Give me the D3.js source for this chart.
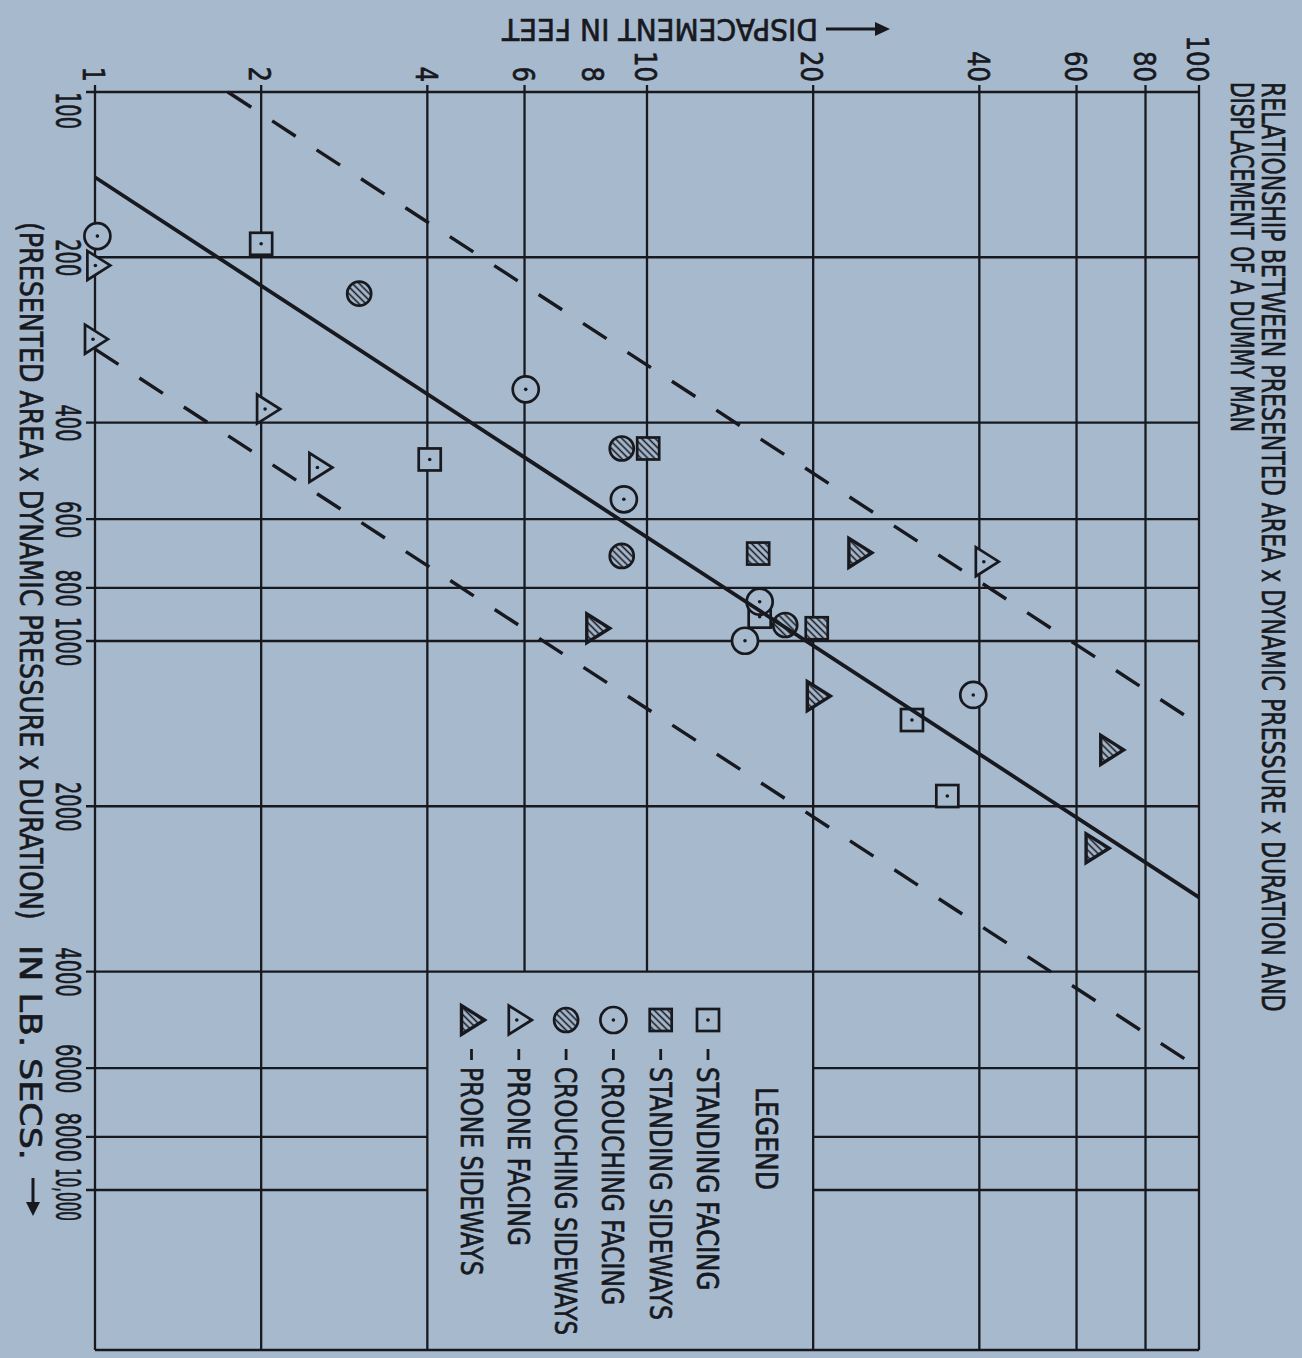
<!DOCTYPE html>
<html>
<head>
<meta charset="utf-8">
<script src="https://cdn.jsdelivr.net/npm/d3@7"></script>
<style>
  body { margin: 0; background: #a7b9cd; }
  svg { display: block; }
  text { font-family: "DejaVu Sans", sans-serif; fill: #17191f; stroke: #17191f; stroke-width: 0.7px; }
</style>
</head>
<body>
<svg id="chart" width="1302" height="1358"></svg>
<script>
// The chart is drawn upright in its own frame and then turned a quarter clockwise,
// like the scanned page. area x pressure x duration runs along the frame's x axis.

const areaTicks = [100, 200, 400, 600, 800, 1000, 2000, 4000, 6000, 8000, 10000];
const areaLabels = ["100", "200", "400", "600", "800", "1000", "2000", "4000", "6000", "8000", "10,000"];
const dispTicks = [1, 2, 4, 6, 8, 10, 20, 40, 60, 80, 100];
const dispGrid = [1, 2, 4, 6, 10, 20, 40, 60, 80, 100];

// [area x pressure x duration (lb.secs), displacement (ft)]
const standingFacing = [[189, 2.0], [467, 4.04], [903, 16.0], [1393, 30.2], [1916, 35.0]];
const standingSideways = [[446, 10.05], [693, 15.9], [948, 20.3]];
const crouchingFacing = [[183, 1.01], [348, 6.03], [552, 9.08], [848, 16.0], [999, 15.05], [1254, 39.0]];
const crouchingSideways = [[233, 3.01], [446, 9.0], [700, 9.0], [935, 17.8]];
const proneFacing = [[207, 1.01], [282, 1.0], [378, 2.05], [483, 2.55], [717, 41.1]];
const proneSideways = [[948, 8.11], [691, 24.2], [1260, 20.35], [1579, 69.2], [2385, 65.1]];

const seriesNames = ["STANDING FACING", "STANDING SIDEWAYS", "CROUCHING FACING",
                     "CROUCHING SIDEWAYS", "PRONE FACING", "PRONE SIDEWAYS"];
const seriesData = [standingFacing, standingSideways, crouchingFacing,
                    crouchingSideways, proneFacing, proneSideways];
const markerTypes = ["squareDot", "squareHatch", "circleDot", "circleHatch", "triangleDot", "triangleHatch"];

// fitted line and the two dashed bounds, [area, displacement] end points
const meanLine = [[143, 1], [2930, 100]];
const upperBound = [[100, 1.74], [1420, 100]];
const lowerBound = [[294, 1], [6000, 100]];

const W = 1302, H = 1358;
const ink = "#17191f";
const paper = "#a7b9cd";
const plotEnd = 1350;

const svg = d3.select("#chart");
svg.append("rect").attr("width", W).attr("height", H).attr("fill", paper);

const hatch = svg.append("defs").append("pattern")
    .attr("id", "hatch")
    .attr("patternUnits", "userSpaceOnUse")
    .attr("width", 4.8).attr("height", 4.8)
    .attr("patternTransform", "rotate(-45)");
hatch.append("rect").attr("width", 4.8).attr("height", 4.8).attr("fill", paper);
hatch.append("line").attr("x1", 0).attr("x2", 4.8).attr("y1", 2.4).attr("y2", 2.4)
    .attr("stroke", ink).attr("stroke-width", 1.6);

const g = svg.append("g").attr("transform", `translate(${W},0) rotate(90)`);

const x = d3.scaleLog().domain([100, 10000]).range([92, 1190]);
const y = d3.scaleLog().domain([1, 100]).range([1207, 103]);
const legendTop = x(4000);

// squeeze a text to the condensed lettering of the original
function fit(sel, len, base) {
    sel.each(function (d, i) {
        const target = typeof len === "function" ? len(d, i) : len;
        const pre = typeof base === "function" ? base(d, i) : (base || "");
        const natural = this.getComputedTextLength();
        this.setAttribute("transform", `${pre} scale(${(target / natural).toFixed(4)},1)`);
    });
}

// grid
const grid = g.append("g").attr("stroke", ink).attr("stroke-width", 2.3);
const areaSegs = areaTicks.flatMap(d => d > 4000
    ? [[d, y(100), y(20)], [d, y(4), y(1) + 9]]
    : [[d, y(100), y(1) + 9]]);
grid.selectAll(".ga").data(areaSegs).join("line")
    .attr("class", "ga")
    .attr("x1", s => x(s[0])).attr("x2", s => x(s[0]))
    .attr("y1", s => s[1]).attr("y2", s => s[2]);
grid.selectAll(".gd").data(dispGrid).join("line")
    .attr("class", "gd")
    .attr("x1", 85)
    .attr("x2", d => (d > 4 && d < 20) ? legendTop : plotEnd)
    .attr("y1", d => y(d)).attr("y2", d => y(d));
grid.append("line")
    .attr("x1", plotEnd).attr("x2", plotEnd)
    .attr("y1", y(100)).attr("y2", y(1));

// axes
const xAxis = d3.axisBottom(x).tickValues(areaTicks)
    .tickFormat((d, i) => areaLabels[i]).tickSize(0).tickPadding(0);
const ax = g.append("g").attr("transform", "translate(0,1246)").call(xAxis);
ax.select(".domain").remove();
ax.selectAll("text")
    .attr("y", 0).attr("dy", null).attr("x", 0)
    .attr("font-size", 33)
    .call(fit,
        (d, i) => areaLabels[i].includes(",") ? 53 : areaLabels[i].length * 12.4,
        d => `translate(${d === 100 ? 18 : d === 10000 ? 4 : 0},0)`);

const yAxis = d3.axisLeft(y).tickValues(dispTicks)
    .tickFormat(d3.format("d")).tickSize(0).tickPadding(0);
const ay = g.append("g").attr("transform", "translate(82,0)").call(yAxis);
ay.select(".domain").remove();
ay.selectAll("text")
    .attr("x", 0).attr("dy", "0.36em")
    .attr("font-size", 31)
    .call(fit, d => String(d).length * 15.5);

// titles
function label(txt, ux, vy, size, len) {
    return g.append("text").attr("font-size", size).text(txt)
        .call(fit, len, `translate(${ux},${vy})`);
}
label("RELATIONSHIP BETWEEN PRESENTED AREA x DYNAMIC PRESSURE x DURATION AND", 82, 40, 32, 930);
label("DISPLACEMENT OF A DUMMY MAN", 82, 71, 32, 350);
label("(PRESENTED AREA x DYNAMIC PRESSURE x DURATION)", 222, 1282, 32, 698);
label("IN LB. SECS.", 945, 1282, 31, 215);

g.append("text")
    .attr("dominant-baseline", "central")
    .attr("font-size", 31)
    .text("DISPACEMENT IN FEET")
    .call(fit, 316, "translate(29,484) rotate(90)");

// arrows
const arrows = g.append("g").attr("stroke", ink).attr("fill", ink);
arrows.append("line").attr("x1", 29).attr("x2", 29).attr("y1", 476).attr("y2", 424).attr("stroke-width", 3);
arrows.append("polygon").attr("points", "29,412 22,427 36,427").attr("stroke", "none");
arrows.append("line").attr("x1", 1178).attr("x2", 1204).attr("y1", 1269).attr("y2", 1269).attr("stroke-width", 3);
arrows.append("polygon").attr("points", "1216,1269 1202,1262 1202,1276").attr("stroke", "none");

// markers
function drawMarker(sel, type) {
    const hatched = type.endsWith("Hatch");
    const fill = hatched ? "url(#hatch)" : paper;
    const sw = type === "triangleHatch" ? 3.4 : 2.7;
    let shape;
    if (type.startsWith("square")) {
        shape = sel.append("rect").attr("x", -11).attr("y", -11).attr("width", 22).attr("height", 22);
    } else if (type.startsWith("circle")) {
        shape = sel.append("circle").attr("r", hatched ? 12 : 13);
    } else {
        shape = sel.append("polygon").attr("points", "0,-13 14.5,10 -14.5,10");
    }
    shape.attr("fill", fill).attr("stroke", ink).attr("stroke-width", sw);
    if (!hatched) {
        sel.append("circle").attr("r", 1.8).attr("fill", ink)
            .attr("cy", type === "triangleDot" ? 2 : 0);
    }
}

seriesData.forEach((pts, k) => {
    g.append("g").selectAll("g").data(pts).join("g")
        .attr("transform", p => `translate(${x(p[0])},${y(p[1])})`)
        .each(function () { drawMarker(d3.select(this), markerTypes[k]); });
});

// fitted lines
const line = d3.line().x(p => x(p[0])).y(p => y(p[1]));
g.append("path").datum(meanLine).attr("d", line)
    .attr("fill", "none").attr("stroke", ink).attr("stroke-width", 3.8);
[upperBound, lowerBound].forEach(b => {
    g.append("path").datum(b).attr("d", line)
        .attr("fill", "none").attr("stroke", ink).attr("stroke-width", 3.4)
        .attr("stroke-dasharray", "28,25");
});

// legend
label("LEGEND", 1087, 546, 31, 103);
const legend = g.append("g").selectAll("g").data(seriesNames).join("g")
    .attr("transform", (d, i) => `translate(0,${594 + i * 47.3})`);
legend.append("g").attr("transform", "translate(1020,0)")
    .each(function (d, i) { drawMarker(d3.select(this), markerTypes[i]); });
legend.append("line").attr("x1", 1049).attr("x2", 1060).attr("y1", 0).attr("y2", 0)
    .attr("stroke", ink).attr("stroke-width", 2.8);
legend.append("text")
    .attr("font-size", 31)
    .text(d => d)
    .call(fit, d => d.length * 14.9, "translate(1067,11)");
</script>
</body>
</html>
